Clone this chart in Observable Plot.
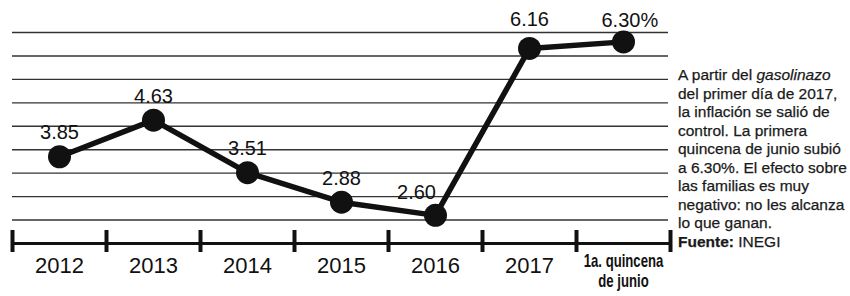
<!DOCTYPE html>
<html>
<head>
<meta charset="utf-8">
<script src="https://cdn.jsdelivr.net/npm/d3@7"></script>
<script src="https://cdn.jsdelivr.net/npm/@observablehq/plot@0.6"></script>
<style>
  html, body { margin: 0; padding: 0; background: #fff; }
  #wrap { position: relative; width: 850px; height: 296px; overflow: hidden; }
  #note {
    position: absolute; left: 678px; top: 66px; width: 172px;
    font-family: "Liberation Sans", Arial, Helvetica, sans-serif;
    font-size: 15.5px; line-height: 18.5px; color: #1a1a1a; white-space: nowrap;
    -webkit-text-stroke: 0.25px #1a1a1a;
  }
</style>
</head>
<body>
<div id="wrap">
  <div id="chart"></div>
  <div id="note">A partir del <i>gasolinazo</i><br>del primer día de 2017,<br>la inflación se salió de<br>control. La primera<br>quincena de junio subió<br>a 6.30%. El efecto sobre<br>las familias es muy<br>negativo: no les alcanza<br>lo que ganan.<br><b>Fuente:</b> INEGI</div>
</div>
<script>
const periods = ["2012", "2013", "2014", "2015", "2016", "2017", "1a. quincena\nde junio"];
const inflation = [3.85, 4.63, 3.51, 2.88, 2.60, 6.16, 6.30];
const valueLabels = ["3.85", "4.63", "3.51", "2.88", "2.60", "6.16", "6.30%"];
const gridLevels = [2.5, 3, 3.5, 4, 4.5, 5, 5.5, 6, 6.5];
const axisBase = 2;

const data = periods.map((p, i) => ({i, period: p, value: inflation[i], label: valueLabels[i]}));
const boundaries = d3.range(periods.length + 1).map(k => k - 0.5);

const font = '"Liberation Sans", Arial, Helvetica, sans-serif';
const valFont = 20;

const chart = Plot.plot({
  width: 850,
  height: 296,
  marginLeft: 12,
  marginRight: 180,
  marginTop: 32,
  marginBottom: 53,
  style: {background: "transparent", fontFamily: font, color: "#111"},
  x: {type: "linear", domain: [-0.5, periods.length - 0.5], axis: null},
  y: {type: "linear", domain: [axisBase, 6.5], axis: null},
  marks: [
    Plot.ruleY(gridLevels, {stroke: "#333", strokeWidth: 1.4, insetRight: 2}),
    Plot.ruleY([axisBase], {stroke: "#111", strokeWidth: 3}),
    Plot.ruleX(boundaries, {x: d => d, y1: axisBase, y2: axisBase, insetTop: -13, insetBottom: -9, stroke: "#111", strokeWidth: 4}),
    Plot.line(data, {x: "i", y: "value", stroke: "#111", strokeWidth: 5.5}),
    Plot.dot(data, {x: "i", y: "value", r: 11.5, fill: "#111", stroke: "none"}),
    // value labels
    Plot.text(data.filter(d => d.i <= 3), {x: "i", y: "value", text: "label", dy: -24, fontSize: valFont, fill: "#111"}),
    Plot.text(data.filter(d => d.i === 4), {x: "i", y: "value", text: "label", dx: -19, dy: -23, fontSize: valFont, fill: "#111"}),
    Plot.text(data.filter(d => d.i === 5), {x: "i", y: "value", text: "label", dy: -29, fontSize: valFont, fill: "#111"}),
    Plot.text(data.filter(d => d.i === 6), {x: "i", y: "value", text: "label", textAnchor: "start", dx: -22, dy: -21, fontSize: valFont, fill: "#111"}),
    // category labels
    Plot.text(data.filter(d => d.i < 6), {x: "i", y: () => axisBase, text: "period", dy: 22, fontSize: 22, fill: "#111"}),
    Plot.text(data.filter(d => d.i === 6), {x: "i", y: () => axisBase, text: "period", dy: 27, fontSize: 18, lineHeight: 1.1, fontWeight: "bold", fill: "#111"})
  ]
});

// condense the two-line last category label, like the printed narrow type
d3.select(chart).selectAll("text").filter(function() {
  return this.textContent.startsWith("1a. quincena");
}).each(function() {
  const t = this.getAttribute("transform") || "";
  this.setAttribute("transform", t + " scale(0.73,1)");
});

document.getElementById("chart").appendChild(chart);
</script>
</body>
</html>
